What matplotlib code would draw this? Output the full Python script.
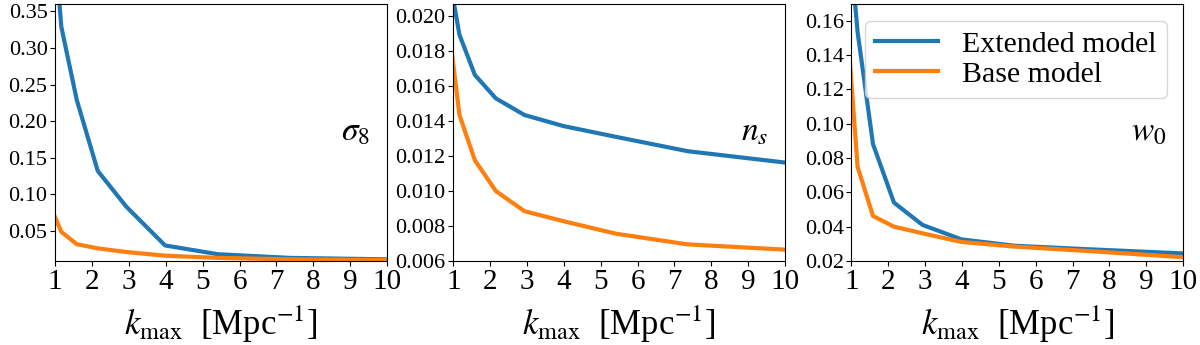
import numpy as np
import matplotlib.pyplot as plt

plt.rcParams['font.family'] = ['Liberation Serif', 'DejaVu Serif']
plt.rcParams['mathtext.fontset'] = 'stix'

# k_max grid (log spaced), only the part around the plotted range
kmax = [0.858, 1.166, 1.585, 2.154, 2.929, 3.981, 5.412, 7.356, 10.0]

sigma8_ext = [0.52, 0.329, 0.229, 0.132, 0.083, 0.030, 0.018, 0.013, 0.011]
sigma8_base = [0.085, 0.0486, 0.0317, 0.026, 0.021, 0.016, 0.013, 0.011, 0.010]

ns_ext = [0.02265, 0.01895, 0.01665, 0.01531, 0.01436, 0.01373, 0.01311, 0.01229, 0.01164]
ns_base = [0.01972, 0.01436, 0.01177, 0.01001, 0.00886, 0.00829, 0.00757, 0.00696, 0.00666]

w0_ext = [0.23, 0.1536, 0.0882, 0.0541, 0.0411, 0.0327, 0.029, 0.027, 0.0245]
w0_base = [0.166, 0.075, 0.0463, 0.0401, 0.0362, 0.0312, 0.0285, 0.026, 0.0223]

params = [r'$\sigma_8$', r'$n_s$', r'$w_0$']
ext = [sigma8_ext, ns_ext, w0_ext]
base = [sigma8_base, ns_base, w0_base]
ylims = [(0.0085, 0.36), (0.006, 0.0207), (0.02, 0.1697)]
yticks = [[0.05, 0.10, 0.15, 0.20, 0.25, 0.30, 0.35],
          [0.006, 0.008, 0.010, 0.012, 0.014, 0.016, 0.018, 0.020],
          [0.02, 0.04, 0.06, 0.08, 0.10, 0.12, 0.14, 0.16]]
yfmt = ['{:.2f}', '{:.3f}', '{:.2f}']

fig, axes = plt.subplots(1, 3, figsize=(12, 3.45), dpi=100)
plt.subplots_adjust(left=0.046, right=0.986, top=0.988, bottom=0.243, wspace=0.2)

for i, ax in enumerate(axes):
    ax.plot(kmax, ext[i], color='#1f77b4', lw=3, label='Extended model')
    ax.plot(kmax, base[i], color='#ff7f0e', lw=3, label='Base model')
    ax.set_xlim(1, 10)
    ax.set_ylim(*ylims[i])
    ax.set_xticks(range(1, 11))
    ax.set_yticks(yticks[i])
    ax.set_yticklabels([yfmt[i].format(v) for v in yticks[i]])
    ax.tick_params(axis='x', labelsize=21, pad=2)
    ax.tick_params(axis='y', labelsize=16, pad=2)
    ax.set_xlabel(r'$k_{\rm max}$  [Mpc$^{-1}$]', fontsize=25, labelpad=6)
    ax.text(0.95, 0.5, params[i], transform=ax.transAxes, ha='right', va='center', fontsize=24)

axes[2].legend(loc='upper right', fontsize=21.5, handlelength=2.1,
               labelspacing=0.1, borderpad=0.35, borderaxespad=0.55)

plt.savefig('out.png')
plt.close(fig)
